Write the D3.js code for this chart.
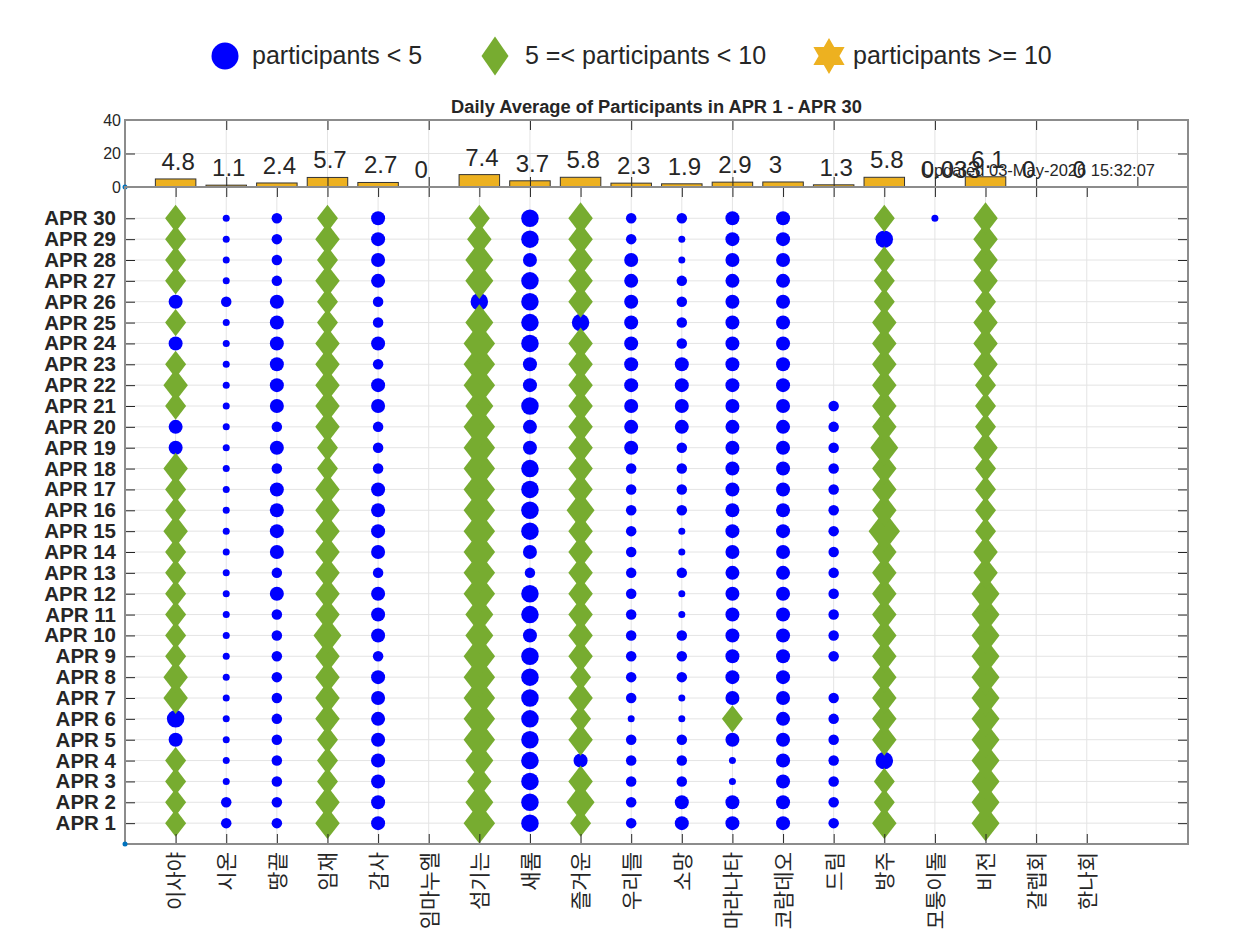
<!DOCTYPE html>
<html lang="ko">
<head>
  <meta charset="UTF-8">
  <title>Daily Average of Participants</title>
  <style>
    html, body {
      margin: 0;
      overflow: hidden;
      width: 100%;
      height: 100%;
      background: white;
    }
    svg {
      position: absolute;
      top: 0;
      left: 0;
      width: 1251px;
      height: 938px;
      background: white;
    }
  </style>
</head>
<body>
  <svg></svg>
</body>
<script src="https://d3js.org/d3.v7.min.js"></script>
<script type="text/javascript">
  // groups along x, days along y
  const groups = ['이사야', '시온', '땅끝', '임재', '감사', '임마누엘', '섬기는', '새롬', '즐거운', '우리들',
    '소망', '마라나타', '코람데오', '드림', '방주', '모퉁이돌', '비전', '갈렙회', '한나회']
  const dayLabels = d3.range(1, 31).map(d => 'APR ' + d)

  // daily participants, APR 1 .. APR 30 (null = no meeting)
  const isaya    = [5,5,5,5,3,4,6,6,5,5,5,5,5,5,6,5,5,6,3,3,5,6,5,3,5,3,5,5,5,5]
  const sion     = [2,2,1,1,1,1,1,1,1,1,1,1,1,1,1,1,1,1,1,1,1,1,1,1,1,2,1,1,1,1]
  const ttangkkeut = [2,2,2,2,2,2,2,2,2,2,2,3,2,3,3,3,3,2,3,2,3,3,3,3,3,3,2,2,2,2]
  const imjae    = [6,6,5,5,5,6,6,6,6,7,6,6,6,6,6,6,6,5,5,6,6,6,6,6,5,5,6,5,6,5]
  const gamsa    = [3,3,3,3,3,3,3,3,2,3,3,3,2,3,3,3,3,2,2,2,3,3,2,3,2,2,3,3,3,3]
  const immanuel = Array(30).fill(null)
  const seomgineun = [8,7,6,7,8,8,8,8,8,7,7,8,8,8,8,8,8,8,8,8,7,8,8,8,7,4,7,7,6,5]
  const saerom   = [4,4,4,4,4,4,4,4,4,3,4,4,2,3,4,4,4,4,3,3,4,3,3,4,4,4,4,3,4,4]
  const jeulgeoun = [5,7,6,3,6,5,6,5,6,6,6,6,6,6,6,7,6,6,6,6,6,6,6,6,4,6,6,6,6,6]
  const urideul  = [2,2,2,2,2,1,2,2,2,2,2,2,2,2,2,2,2,2,3,3,3,3,3,3,3,3,3,3,2,2]
  const somang   = [3,3,2,2,2,1,1,2,2,2,1,1,2,1,1,2,2,2,2,3,3,3,3,2,2,2,2,1,1,2]
  const maranatha = [3,3,1,1,3,5,3,3,3,3,3,3,3,3,3,3,3,3,3,3,3,3,3,3,3,3,3,3,3,3]
  const coramdeo = [3,3,3,3,3,3,3,3,3,3,3,3,3,3,3,3,3,3,3,3,3,3,3,3,3,3,3,3,3,3]
  const dream    = [2,2,2,2,2,2,2,null,2,2,2,2,2,2,2,2,2,2,2,2,2,null,null,null,null,null,null,null,null,null]
  const bangju   = [6,5,5,4,6,6,6,6,6,6,6,6,6,6,8,6,6,6,7,6,6,6,6,6,6,5,5,5,4,5]
  const moturngidol = [null,null,null,null,null,null,null,null,null,null,null,null,null,null,null,
    null,null,null,null,null,null,null,null,null,null,null,null,null,null,1]
  const vision   = [7,7,7,7,7,7,7,7,7,7,7,7,6,6,5,5,5,5,6,5,5,5,6,6,6,5,6,6,6,6]
  const caleb    = Array(30).fill(null)
  const hannah   = Array(30).fill(null)

  const participants = [isaya, sion, ttangkkeut, imjae, gamsa, immanuel, seomgineun, saerom, jeulgeoun,
    urideul, somang, maranatha, coramdeo, dream, bangju, moturngidol, vision, caleb, hannah]

  // daily average per group (top bar chart)
  const dailyAverage = [4.8, 1.1, 2.4, 5.7, 2.7, 0, 7.4, 3.7, 5.8, 2.3, 1.9, 2.9, 3, 1.3, 5.8, 0.033, 6.1, 0, 0]

  const legendLabels = ['participants < 5', '5 =< participants < 10', 'participants >= 10']
  const barTicks = [0, 20, 40]
  const updatedText = 'Updated 03-May-2026 15:32:07'
  const titleText = 'Daily Average of Participants in APR 1 - APR 30'

  const svg = d3.select('svg')
  const latin = 'Liberation Sans, Arial, sans-serif'
  const textColor = '#262626'
  const gridColor = '#e4e4e4'
  const boxColor = '#8c8c8c'

  const x = d3.scaleLinear().domain([0, 21]).range([125, 1188])
  const yBar = d3.scaleLinear().domain([0, 40]).range([187, 120])
  const y = d3.scaleLinear().domain([0, 31.5]).range([844, 187])
  const size = d3.scaleLinear().domain([0, 10]).range([3.5, 38.5])
  const unit = x(1) - x(0)

  const colors = { circle: '#0000ff', diamond: '#77ac30', star: '#edb120' }

  const diamondPath = (d) => {
    const w = d / 2, h = d / 2 * 1.3
    return `M0,${-h}L${w},0L0,${h}L${-w},0Z`
  }
  const starPath = (R) => d3.lineRadial()
    .curve(d3.curveLinearClosed)(d3.range(12).map(k => [k * Math.PI / 6, k % 2 ? R / Math.sqrt(3) : R]))

  // ---------- top bar chart ----------
  const barG = svg.append('g')

  barG.selectAll('line.vgrid')
    .data(d3.range(2, 21, 2))
    .enter().append('line')
    .attr('x1', d => x(d)).attr('x2', d => x(d))
    .attr('y1', yBar(40)).attr('y2', yBar(0))
    .attr('stroke', gridColor)
  barG.selectAll('line.hgrid')
    .data([20])
    .enter().append('line')
    .attr('x1', x(0)).attr('x2', x(21))
    .attr('y1', d => yBar(d)).attr('y2', d => yBar(d))
    .attr('stroke', gridColor)

  barG.selectAll('rect')
    .data(dailyAverage)
    .enter().append('rect')
    .attr('x', (d, i) => x(i + 1) - 0.4 * unit)
    .attr('width', 0.8 * unit)
    .attr('y', d => yBar(d))
    .attr('height', d => yBar(0) - yBar(d))
    .attr('fill', '#edb120')
    .attr('stroke', '#333')
    .attr('stroke-width', 1)

  const fmt = d3.format('.2~g')
  barG.selectAll('text.val')
    .data(dailyAverage)
    .enter().append('text')
    .attr('x', (d, i) => x(i + 1 - 0.28))
    .attr('y', d => yBar(d) - 9)
    .attr('font-family', latin)
    .attr('font-size', 24)
    .attr('fill', textColor)
    .text(d => fmt(d))

  barG.append('text')
    .attr('x', 922).attr('y', 175.5)
    .attr('font-family', latin)
    .attr('font-size', 16.5)
    .attr('fill', textColor)
    .text(updatedText)

  // bar axes
  const barLeft = barG.append('g').attr('transform', `translate(${x(0)},0)`)
    .call(d3.axisLeft(yBar).tickValues(barTicks).tickSize(-10).tickPadding(4))
  const barRight = barG.append('g').attr('transform', `translate(${x(21)},0)`)
    .call(d3.axisRight(yBar).tickValues(barTicks).tickSize(-10).tickFormat(''))
  const barTopAxis = barG.append('g').attr('transform', `translate(0,${yBar(40)})`)
    .call(d3.axisTop(x).tickValues(d3.range(0, 21, 2)).tickSize(-10).tickFormat(''))
  const barBottom = barG.append('g').attr('transform', `translate(0,${yBar(0)})`)
    .call(d3.axisBottom(x).tickValues(d3.range(0, 21, 2)).tickSize(-10).tickFormat(''))
  ;[barLeft, barRight, barTopAxis, barBottom].forEach(a => {
    a.select('.domain').remove()
    a.selectAll('line').attr('stroke', textColor)
    a.selectAll('text').attr('font-family', latin).attr('font-size', 16).attr('fill', textColor)
  })

  barG.append('rect')
    .attr('x', x(0)).attr('y', yBar(40))
    .attr('width', x(21) - x(0)).attr('height', yBar(0) - yBar(40))
    .attr('fill', 'none').attr('stroke', boxColor).attr('stroke-width', 2)

  barG.append('circle')
    .attr('cx', x(0)).attr('cy', yBar(0)).attr('r', 2.5).attr('fill', '#0072bd')

  svg.append('text')
    .attr('x', (x(0) + x(21)) / 2).attr('y', 113)
    .attr('text-anchor', 'middle')
    .attr('font-family', latin)
    .attr('font-weight', 'bold')
    .attr('font-size', 18.3)
    .attr('fill', textColor)
    .text(titleText)

  // ---------- main bubble chart ----------
  const main = svg.append('g')

  main.selectAll('line.hgrid')
    .data(d3.range(1, 31))
    .enter().append('line')
    .attr('x1', x(0)).attr('x2', x(21))
    .attr('y1', d => y(d)).attr('y2', d => y(d))
    .attr('stroke', gridColor)
  main.selectAll('line.vgrid')
    .data(d3.range(1, groups.length + 1))
    .enter().append('line')
    .attr('x1', d => x(d)).attr('x2', d => x(d))
    .attr('y1', y(31.5)).attr('y2', y(0))
    .attr('stroke', gridColor)

  const points = []
  participants.forEach((series, gi) => {
    series.forEach((v, di) => {
      if (v !== null) points.push({ g: gi + 1, day: di + 1, v: v })
    })
  })

  main.selectAll('circle.p')
    .data(points.filter(p => p.v < 5))
    .enter().append('circle')
    .attr('cx', p => x(p.g))
    .attr('cy', p => y(p.day))
    .attr('r', p => size(p.v) / 2)
    .attr('fill', colors.circle)

  main.selectAll('path.d')
    .data(points.filter(p => p.v >= 5 && p.v < 10))
    .enter().append('path')
    .attr('transform', p => `translate(${x(p.g)},${y(p.day)})`)
    .attr('d', p => diamondPath(size(p.v)))
    .attr('fill', colors.diamond)

  main.selectAll('path.s')
    .data(points.filter(p => p.v >= 10))
    .enter().append('path')
    .attr('transform', p => `translate(${x(p.g)},${y(p.day)})`)
    .attr('d', p => starPath(size(p.v) / 2))
    .attr('fill', colors.star)

  // main axes
  const yLeft = main.append('g').attr('transform', `translate(${x(0)},0)`)
    .call(d3.axisLeft(y).tickValues(d3.range(1, 31)).tickSize(-10).tickPadding(9)
      .tickFormat(d => dayLabels[d - 1]))
  yLeft.selectAll('text')
    .attr('font-family', latin).attr('font-weight', 'bold').attr('font-size', 20.5)
  const yRight = main.append('g').attr('transform', `translate(${x(21)},0)`)
    .call(d3.axisRight(y).tickValues(d3.range(1, 31)).tickSize(-10).tickFormat(''))
  const xBottom = main.append('g').attr('transform', `translate(0,${y(0)})`)
    .call(d3.axisBottom(x).tickValues(d3.range(1, groups.length + 1)).tickSize(-10)
      .tickFormat(d => groups[d - 1]))
  xBottom.selectAll('text')
    .attr('transform', 'rotate(-90)')
    .attr('x', -8).attr('y', 0).attr('dy', '0.35em')
    .style('text-anchor', 'end')
    .attr('font-family', 'Noto Sans CJK KR, sans-serif')
    .attr('font-size', 21)
  const xTop = main.append('g').attr('transform', `translate(0,${y(31.5)})`)
    .call(d3.axisTop(x).tickValues(d3.range(1, groups.length + 1)).tickSize(-10).tickFormat(''))
  ;[yLeft, yRight, xBottom, xTop].forEach(a => {
    a.select('.domain').remove()
    a.selectAll('line').attr('stroke', textColor)
    a.selectAll('text').attr('fill', textColor)
  })

  main.append('rect')
    .attr('x', x(0)).attr('y', y(31.5))
    .attr('width', x(21) - x(0)).attr('height', y(0) - y(31.5))
    .attr('fill', 'none').attr('stroke', boxColor).attr('stroke-width', 2)

  main.append('circle')
    .attr('cx', x(0)).attr('cy', y(0)).attr('r', 2.5).attr('fill', '#0072bd')

  // ---------- legend ----------
  const legendItems = [
    { label: legendLabels[0], mx: 225, tx: 252, shape: 'circle' },
    { label: legendLabels[1], mx: 495, tx: 525, shape: 'diamond' },
    { label: legendLabels[2], mx: 829, tx: 853, shape: 'star' }
  ]
  const legend = svg.append('g')
  const item = legend.selectAll('g')
    .data(legendItems)
    .enter().append('g')
  item.append('path')
    .attr('transform', d => `translate(${d.mx},56)`)
    .attr('d', d => d.shape === 'circle' ? d3.symbol(d3.symbolCircle, Math.PI * 13.5 * 13.5)()
      : d.shape === 'diamond' ? `M0,-19.5L13.5,0L0,19.5L-13.5,0Z` : starPath(18))
    .attr('fill', d => colors[d.shape])
  item.append('text')
    .attr('x', d => d.tx).attr('y', 64)
    .attr('font-family', latin)
    .attr('font-size', 25)
    .attr('fill', textColor)
    .text(d => d.label)
</script>
</html>
